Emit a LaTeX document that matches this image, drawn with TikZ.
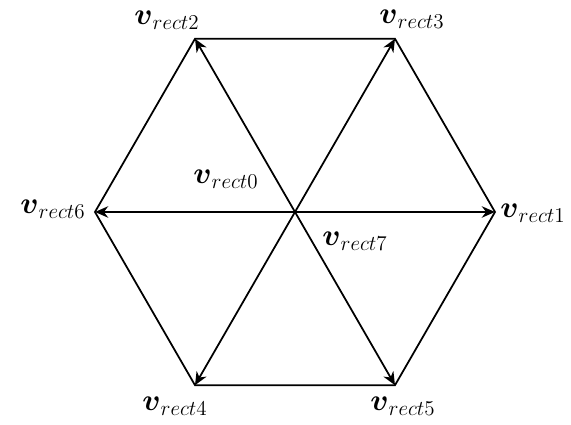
\documentclass[tikz,border=0pt]{standalone}
\usepackage{amsmath}
\usepackage{amssymb}
\usetikzlibrary{arrows.meta}

\begin{document}
\begin{tikzpicture}[
  vec/.style={-{Stealth[length=7.5pt,width=6.5pt]},line width=1pt},
  lbl/.style={font=\fontsize{17.5}{21}\selectfont,inner sep=0.5pt}
]

\useasboundingbox (-5.9,-4.26) rectangle (5.52,4.24);

\coordinate (O) at (0,0);
\foreach \i/\a in {1/0,3/60,2/120,6/180,4/240,5/300}
  \coordinate (v\i) at (\a:4);

\draw[line width=1pt] (v1) -- (v3) -- (v2) -- (v6) -- (v4) -- (v5) -- cycle;

\foreach \i in {1,2,3,4,5,6}
  \draw[vec] (O) -- (v\i);

\node[lbl] (l1) at (4.76,-0.02) {$\boldsymbol{v}_{rect1}$};
\node[lbl] (l2) at (-2.56,3.84) {$\boldsymbol{v}_{rect2}$};
\node[lbl] (l3) at (2.34,3.86) {$\boldsymbol{v}_{rect3}$};
\node[lbl] (l4) at (-2.4,-3.88) {$\boldsymbol{v}_{rect4}$};
\node[lbl] (l5) at (2.16,-3.88) {$\boldsymbol{v}_{rect5}$};
\node[lbl] (l6) at (-4.84,0.06) {$\boldsymbol{v}_{rect6}$};
\node[lbl] (l0) at (-1.38,0.66) {$\boldsymbol{v}_{rect0}$};
\node[lbl] (l7) at (1.2,-0.58) {$\boldsymbol{v}_{rect7}$};

\end{tikzpicture}
\end{document}
